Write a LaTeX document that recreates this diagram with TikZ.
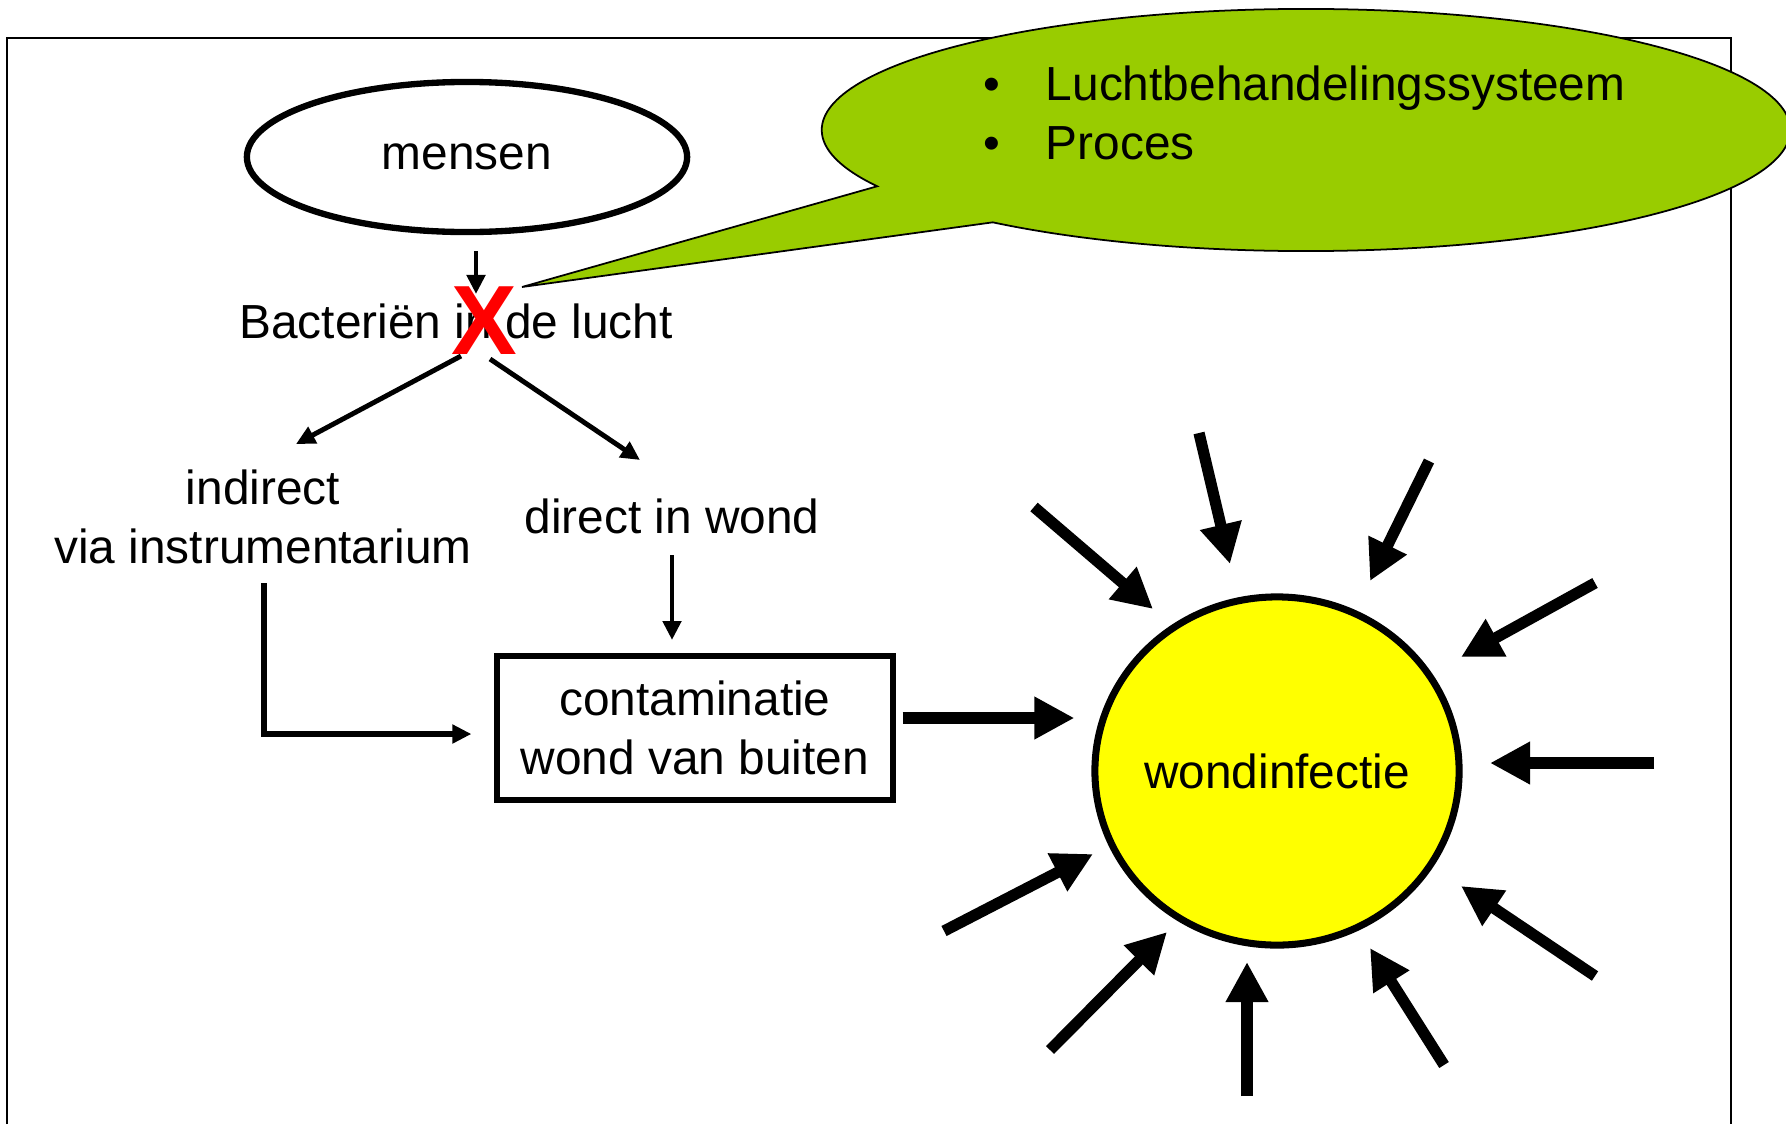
\documentclass[tikz,border=0pt]{standalone}
\usepackage{fontspec}
\setmainfont{Liberation Sans}
\usetikzlibrary{shapes,shapes.callouts,arrows.meta,positioning,calc}
\usepackage{xcolor}
\definecolor{ballongroen}{RGB}{153,204,0}
\definecolor{zongeel}{RGB}{255,255,0}

\begin{document}
\begin{tikzpicture}[x=0.01cm, y=-0.01cm, every node/.style={font=\fontsize{13.6}{16.6}\selectfont}]
    \tikzstyle{oval} = [ellipse, draw, line width=1.8pt, minimum width=4.4cm, minimum height=1.5cm]
    \tikzstyle{txt} = [inner sep=0pt, align=center]
    \tikzstyle{kader} = [rectangle, draw, line width=1.7pt, minimum width=3.95cm, minimum height=1.43cm, align=center]
    \tikzstyle{dun} = [line width=1.4pt, -{Triangle[length=0.19cm, width=0.18cm]}]
    \tikzstyle{dik} = [line width=3.2pt, -{Triangle[length=0.4cm, width=0.4cm]}]
    \useasboundingbox (0,0) rectangle (1786,1124);

    % omlijsting
    \draw[line width=0.5pt] (7,1124) -- (7,38) -- (1731,38) -- (1731,1124);

    % tekstballon
    \node[ellipse callout, draw, fill=ballongroen, line width=0.5pt, minimum width=9.68cm, minimum height=2.42cm,
          callout absolute pointer={(522,287)}, callout pointer arc=22] (ballon) at (1306,130) {};
    \node[anchor=west, align=left, inner sep=0pt] (lijst) at (983,113)
        {\textbullet\hspace{0.95em}Luchtbehandelingssysteem\\\textbullet\hspace{0.95em}Proces};

    % bron en wegen
    \node[oval] (mensen) at (467,157) {mensen};
    \node[txt] (bact) at (456,321) {Bacteriën in de lucht};
    \node[txt, text=red, font=\fontsize{28}{30}\selectfont\bfseries] (kruis) at (484,321) {X};
    \node[txt] (indirect) at (263,517) {indirect\\via instrumentarium};
    \node[txt] (direct) at (672,516) {direct in wond};
    \node[kader] (contam) at (695,728) {contaminatie\\wond van buiten};
    \node[ellipse, draw, fill=zongeel, line width=2pt, inner xsep=-0.1cm, inner ysep=0pt,
          minimum width=3.64cm, minimum height=3.48cm] (infectie) at (1277,771) {wondinfectie};

    % pijlen
    \draw[dun] ($(mensen)+(9,94)$) -- ($(bact)+(20,-27)$);
    \draw[dun] ($(bact)+(5,35)$) -- ($(indirect)+(33,-73)$);
    \draw[dun] ($(bact)+(34,38)$) -- ($(direct)+(-32,-56)$);
    \draw[dun] ($(direct)+(0,39)$) -- ($(contam)+(-23,-88)$);
    \draw[dun, line width=1.7pt] ($(indirect)+(1,66)$) |- ($(contam.west)+(-23,6)$);
    \draw[dik] ($(contam.east)+(7,-10)$) -- ($(infectie.west)+(-17,-53)$);

    % pijlen rond de wondinfectie
    \foreach \n/\a/\b/\c/\d in {1/1034/507/1153/609, 2/1199/433/1230/564, 3/1429/461/1370/581,
                                4/1595/583/1461/657, 5/1654/763/1490/763, 6/1595/976/1461/886,
                                7/1444/1065/1370/948, 8/1247/1096/1247/962, 9/1050/1050/1167/932,
                                10/944/931/1093/854} {
        \coordinate (van\n) at (\a,\b);
        \coordinate (naar\n) at (\c,\d);
        \draw[dik] (van\n) -- (naar\n);
    }
\end{tikzpicture}
\end{document}
